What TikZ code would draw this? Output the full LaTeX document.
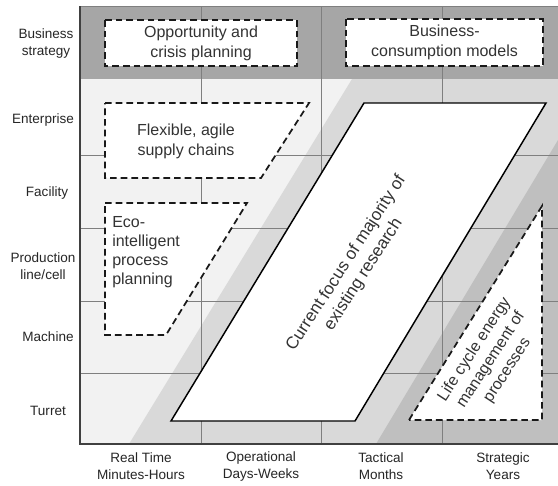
\documentclass[tikz,border=0pt]{standalone}
\usepackage{fontspec}
\setmainfont{Liberation Sans}
\definecolor{bgA}{HTML}{F2F2F2}
\definecolor{bgB}{HTML}{D9D9D9}
\definecolor{bgC}{HTML}{BFBFBF}
\definecolor{bgD}{HTML}{A6A6A6}
\definecolor{gridc}{HTML}{7F7F7F}
\definecolor{axisc}{HTML}{404040}
\begin{document}
\begin{tikzpicture}[x=0.75pt,y=-0.75pt,
  boxtxt/.style={font=\fontsize{12}{15}\selectfont, align=center, inner sep=0pt, text=black!80},
  lbl/.style={font=\fontsize{10.15}{12.75}\selectfont, align=center, inner sep=0pt, text=black!85},
  dbox/.style={draw=black!90, fill=white, line width=1.3pt, dash pattern=on 5pt off 3pt},
  focus/.style={draw=black, fill=white, line width=1.1pt},
  gridl/.style={draw=gridc, line width=0.6pt},
  axisl/.style={draw=axisc, line width=1.4pt}]
\useasboundingbox (0,0) rectangle (558,486);
\fill[white] (0,0) rectangle (558,486);
% background bands
\fill[bgA] (80,79) rectangle (558,444);
\fill[bgB] (352,79) -- (558,79) -- (558,444) -- (129,444) -- cycle;
\fill[bgC] (558,140) -- (558,444) -- (376,444) -- cycle;
\fill[bgD] (80,6) rectangle (558,79);
% grid
\foreach \gx in {201,321,442} \draw[gridl] (\gx,6) -- (\gx,444);
\foreach \gy in {155,228,301,373} \draw[gridl] (80,\gy) -- (558,\gy);
\draw[gridl] (80,6) -- (558,6);
% axes
\draw[axisl] (80,6) -- (80,444) -- (558,444);
% boxes
\draw[dbox] (105,20) rectangle (297,66);
\draw[dbox] (346,19) rectangle (543,66);
\draw[dbox] (105,103) -- (309,103) -- (261,178) -- (105,178) -- cycle;
\draw[dbox] (105,203) -- (247,203) -- (166,335) -- (105,335) -- cycle;
\draw[dbox] (409,420) -- (542,206) -- (542,420) -- cycle;
\draw[focus] (171,421) -- (355,421) -- (546,103) -- (364,103) -- cycle;
% box texts
\node[boxtxt] (opp) at (201,43) {Opportunity and\\crisis planning};
\node[boxtxt] (bcm) at (444.5,42.5) {Business-\\consumption models};
\node[boxtxt] (flex) at (186,141) {Flexible, agile\\supply chains};
\node[boxtxt, align=left, anchor=west, font=\fontsize{12}{14.3}\selectfont] (eco) at (112,252) {Eco-\\intelligent\\process\\planning};
\node[boxtxt, rotate=57, font=\fontsize{12.8}{15.5}\selectfont] (cur) at (355,269) {Current focus of majority of\\existing research};
\node[boxtxt, rotate=57, font=\fontsize{12}{14.6}\selectfont] (lca) at (491,360) {Life cycle energy\\management of\\processes};
% row labels
\node[lbl] (l1) at (46,43.5) {Business\\strategy};
\node[lbl] (l2) at (43,120) {Enterprise};
\node[lbl] (l3) at (47,193) {Facility};
\node[lbl] (l4) at (43,266.5) {Production\\line/cell};
\node[lbl] (l5) at (48,336.5) {Machine};
\node[lbl] (l6) at (48,410.5) {Turret};
% column labels
\node[lbl] (b1) at (141,466) {Real Time\\Minutes-Hours};
\node[lbl] (b2) at (261,466) {Operational\\Days-Weeks};
\node[lbl] (b3) at (381,466) {Tactical\\Months};
\node[lbl] (b4) at (503,466) {Strategic\\Years};
\end{tikzpicture}
\end{document}
